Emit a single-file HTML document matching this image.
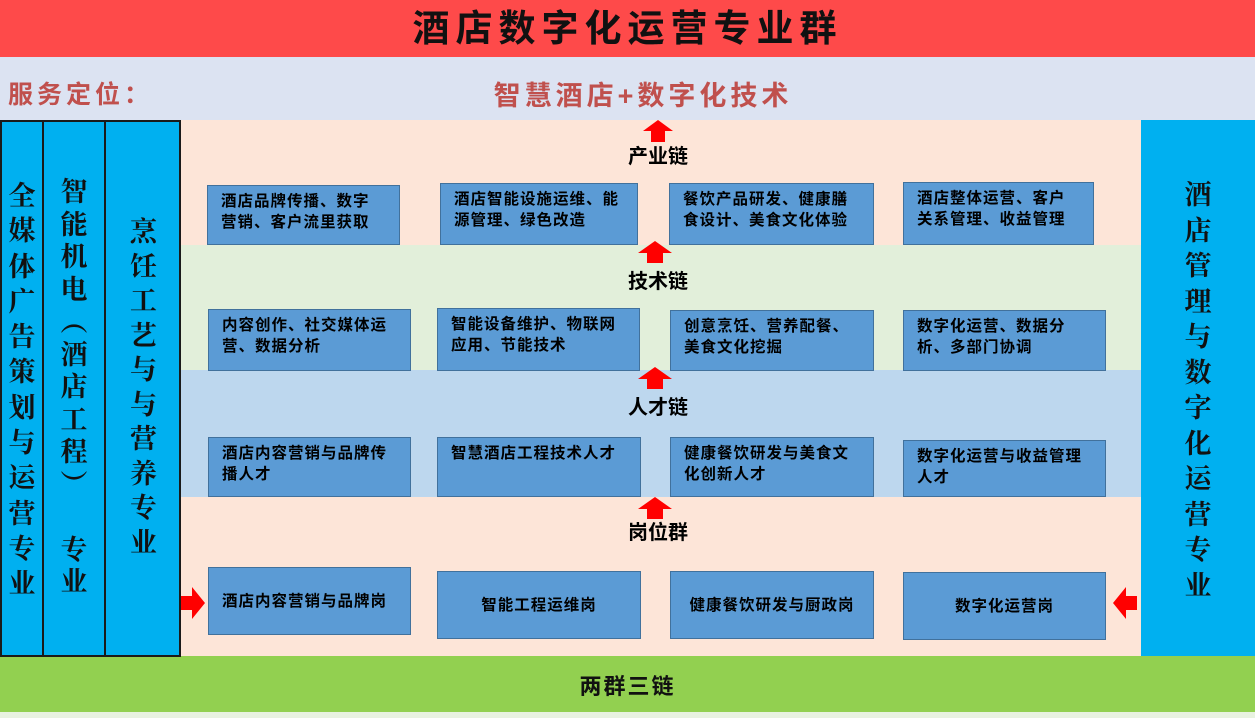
<!DOCTYPE html>
<html><head><meta charset="utf-8"><style>
*{margin:0;padding:0;box-sizing:border-box}
body{width:1255px;height:718px;position:relative;overflow:hidden;background:#e8f2e0;font-family:"Liberation Sans","Noto Sans CJK SC",sans-serif}
.a{position:absolute}
.col{position:absolute;display:flex;flex-direction:column;align-items:center;font-family:"Noto Serif CJK SC","Noto Sans CJK SC",serif;font-size:27px;color:#111;font-weight:bold}
.col span{display:block;text-align:center}
.box{position:absolute;background:#5b9bd5;border:1.5px solid #41719c;color:#000;font-weight:bold;font-size:15.5px;line-height:21px;padding:5px 18px 5px 13px;letter-spacing:1px}
.c{display:flex;align-items:center;justify-content:center;padding:0}
.lbl{position:absolute;font-size:20px;font-weight:bold;color:#000;width:120px;text-align:center}
</style></head><body>
<div class="a" style="left:0;top:0;width:1255px;height:57px;background:#fe4a4a;text-align:center;font-size:37px;font-weight:bold;line-height:57px;color:#111;letter-spacing:6px">酒店数字化运营专业群</div>
<div class="a" style="left:0;top:57px;width:1255px;height:63px;background:#dce3f2"></div>
<div class="a" style="left:8px;top:75px;font-size:25px;font-weight:bold;color:#c0504d;letter-spacing:4px">服务定位：</div>
<div class="a" style="left:440px;top:74px;width:406px;text-align:center;font-size:27px;font-weight:bold;color:#c0504d;letter-spacing:4px">智慧酒店+数字化技术</div>

<div class="a" style="left:180px;top:120px;width:961px;height:125px;background:#fde5d8"></div>
<div class="a" style="left:180px;top:245px;width:961px;height:125px;background:#e2efda"></div>
<div class="a" style="left:180px;top:370px;width:961px;height:127px;background:#bdd7ee"></div>
<div class="a" style="left:180px;top:497px;width:961px;height:159px;background:#fde5d8"></div>
<div class="a" style="left:0;top:656px;width:1255px;height:56px;background:#92d050;text-align:center;line-height:62px;font-size:22px;font-weight:bold;color:#111;letter-spacing:2px">两群三链</div>

<div class="a" style="left:0;top:120px;width:181px;height:537px;background:#00b0f0;border:2px solid #1a1a1a"></div>
<div class="a" style="left:42px;top:120px;width:2px;height:537px;background:#1a1a1a"></div>
<div class="a" style="left:104px;top:120px;width:2px;height:537px;background:#1a1a1a"></div>
<div class="a" style="left:1141px;top:120px;width:114px;height:536px;background:#00b0f0"></div>

<div class="col" style="left:2px;top:176px;width:40px"><span style="line-height:35.3px">全</span><span style="line-height:35.3px">媒</span><span style="line-height:35.3px">体</span><span style="line-height:35.3px">广</span><span style="line-height:35.3px">告</span><span style="line-height:35.3px">策</span><span style="line-height:35.3px">划</span><span style="line-height:35.3px">与</span><span style="line-height:35.3px">运</span><span style="line-height:35.3px">营</span><span style="line-height:35.3px">专</span><span style="line-height:35.3px">业</span></div>
<div class="col" style="left:44px;top:174px;width:60px"><span style="line-height:32.5px">智</span><span style="line-height:32.5px">能</span><span style="line-height:32.5px">机</span><span style="line-height:32.5px">电</span><span style="line-height:32.5px">︵</span><span style="line-height:32.5px">酒</span><span style="line-height:32.5px">店</span><span style="line-height:32.5px">工</span><span style="line-height:32.5px">程</span><span style="line-height:32.5px">︶</span><span style="line-height:32.5px">&nbsp;</span><span style="line-height:32.5px">专</span><span style="line-height:32.5px">业</span></div>
<div class="col" style="left:106px;top:213px;width:75px"><span style="line-height:34.5px">烹</span><span style="line-height:34.5px">饪</span><span style="line-height:34.5px">工</span><span style="line-height:34.5px">艺</span><span style="line-height:34.5px">与</span><span style="line-height:34.5px">与</span><span style="line-height:34.5px">营</span><span style="line-height:34.5px">养</span><span style="line-height:34.5px">专</span><span style="line-height:34.5px">业</span></div>
<div class="col" style="left:1141px;top:175px;width:114px"><span style="line-height:35.5px">酒</span><span style="line-height:35.5px">店</span><span style="line-height:35.5px">管</span><span style="line-height:35.5px">理</span><span style="line-height:35.5px">与</span><span style="line-height:35.5px">数</span><span style="line-height:35.5px">字</span><span style="line-height:35.5px">化</span><span style="line-height:35.5px">运</span><span style="line-height:35.5px">营</span><span style="line-height:35.5px">专</span><span style="line-height:35.5px">业</span></div>

<svg class="a" style="left:0;top:0" width="1255" height="718">
<g fill="#ff0000">
<polygon points="643,131 658,120 673,131 665,131 665,142 651,142 651,131"/>
<polygon points="638,253 655,241 672,253 663,253 663,263 647,263 647,253"/>
<polygon points="638,379 655,367 672,379 663,379 663,389 647,389 647,379"/>
<polygon points="638,509 655,497 672,509 663,509 663,519 647,519 647,509"/>
<polygon points="181,596 192,596 192,587 205,603 192,619 192,610 181,610"/>
<polygon points="1137,596 1126,596 1126,587 1113,603 1126,619 1126,610 1137,610"/>
</g></svg>
<div class="lbl" style="left:598px;top:140px">产业链</div>
<div class="lbl" style="left:598px;top:265px">技术链</div>
<div class="lbl" style="left:598px;top:391px">人才链</div>
<div class="lbl" style="left:598px;top:516px">岗位群</div>

<div class="box" style="left:207px;top:185px;width:193px;height:60px">酒店品牌传播、数字营销、客户流里获取</div>
<div class="box" style="left:440px;top:183px;width:198px;height:62px">酒店智能设施运维、能源管理、绿色改造</div>
<div class="box" style="left:669px;top:183px;width:205px;height:62px">餐饮产品研发、健康膳食设计、美食文化体验</div>
<div class="box" style="left:903px;top:182px;width:191px;height:63px">酒店整体运营、客户关系管理、收益管理</div>

<div class="box" style="left:208px;top:309px;width:203px;height:62px">内容创作、社交媒体运营、数据分析</div>
<div class="box" style="left:437px;top:308px;width:203px;height:63px">智能设备维护、物联网应用、节能技术</div>
<div class="box" style="left:670px;top:310px;width:204px;height:61px">创意烹饪、营养配餐、美食文化挖掘</div>
<div class="box" style="left:903px;top:310px;width:203px;height:61px">数字化运营、数据分析、多部门协调</div>

<div class="box" style="left:208px;top:437px;width:203px;height:60px">酒店内容营销与品牌传播人才</div>
<div class="box" style="left:437px;top:437px;width:204px;height:60px">智慧酒店工程技术人才</div>
<div class="box" style="left:670px;top:437px;width:204px;height:60px">健康餐饮研发与美食文化创新人才</div>
<div class="box" style="left:903px;top:440px;width:203px;height:57px">数字化运营与收益管理人才</div>

<div class="box c" style="left:208px;top:567px;width:203px;height:68px;justify-content:flex-start;padding-left:13px">酒店内容营销与品牌岗</div>
<div class="box c" style="left:437px;top:571px;width:204px;height:68px">智能工程运维岗</div>
<div class="box c" style="left:670px;top:571px;width:204px;height:68px">健康餐饮研发与厨政岗</div>
<div class="box c" style="left:903px;top:572px;width:203px;height:68px">数字化运营岗</div>
</body></html>
